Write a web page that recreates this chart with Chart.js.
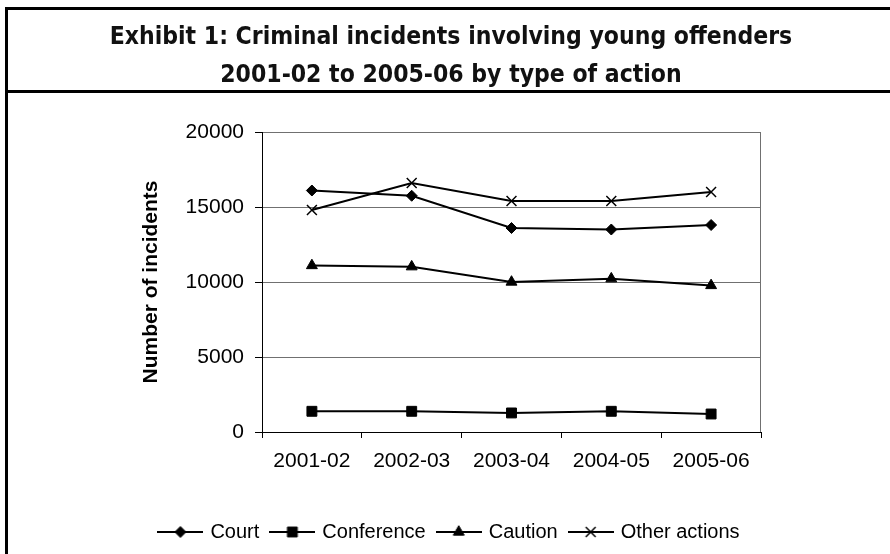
<!DOCTYPE html>
<html>
<head>
<meta charset="utf-8">
<script src="https://cdn.jsdelivr.net/npm/chart.js@4.4.1/dist/chart.umd.min.js"></script>
<style>
  html, body { margin: 0; padding: 0; background: #fff; overflow: hidden; }
  #frame { position: absolute; left: 5px; top: 7px; width: 900px; height: 600px; border: 3px solid #000; }
  #rule { position: absolute; left: 5px; top: 90px; width: 900px; height: 3px; background: #000; }
  #title {
    position: absolute; left: 0; top: 17px; width: 902px; text-align: center;
    font-family: "DejaVu Sans Condensed", "DejaVu Sans", sans-serif; font-stretch: condensed;
    font-weight: bold; font-size: 24.5px; line-height: 38px; color: #111;
  }
  #chartBox { position: absolute; left: 0; top: 0; width: 890px; height: 554px; }
</style>
</head>
<body>
<div id="chartBox"><canvas id="chartArea"></canvas></div>
<div id="frame"></div>
<div id="rule"></div>
<div id="title">Exhibit 1: Criminal incidents involving young offenders<br>2001-02 to 2005-06 by type of action</div>
<script>
// Chart data
var years = ['2001-02', '2002-03', '2003-04', '2004-05', '2005-06'];
var courtValues = [16100, 15750, 13600, 13500, 13800];
var conferenceValues = [1380, 1380, 1270, 1380, 1200];
var cautionValues = [11100, 11020, 10000, 10220, 9770];
var otherValues = [14800, 16600, 15400, 15400, 16000];
var yTicks = [0, 5000, 10000, 15000, 20000];

var tickFont = { family: 'Liberation Sans, Arial, sans-serif', size: 21 };

// Build one black line series with its marker style
function makeSeries(label, values, style, radius) {
  return {
    label: label,
    data: values,
    borderColor: '#000',
    backgroundColor: '#000',
    borderWidth: 2,
    pointStyle: style,
    pointRadius: radius,
    pointHoverRadius: radius,
    pointBackgroundColor: '#000',
    pointBorderColor: '#000',
    pointBorderWidth: style === 'crossRot' ? 1.5 : 1,
    tension: 0
  };
}

// Small canvas with a line and the marker, used as the legend symbol
function legendIcon(ds) {
  var c = document.createElement('canvas');
  c.width = 46;
  c.height = 16;
  var g = c.getContext('2d');
  g.strokeStyle = '#000';
  g.fillStyle = '#000';
  g.lineWidth = 2;
  g.beginPath();
  g.moveTo(0, 8);
  g.lineTo(46, 8);
  g.stroke();
  g.lineWidth = ds.pointBorderWidth;
  Chart.helpers.drawPoint(g, { pointStyle: ds.pointStyle, radius: ds.pointRadius, borderWidth: ds.pointBorderWidth, rotation: 0 }, 23, 8);
  return c;
}

// Grey frame line on the right of the plot area
var plotFrame = {
  id: 'plotFrame',
  beforeDatasetsDraw: function(chart) {
    var a = chart.chartArea;
    var ctx = chart.ctx;
    ctx.save();
    ctx.strokeStyle = '#707070';
    ctx.lineWidth = 1;
    ctx.beginPath();
    ctx.moveTo(a.right - 0.5, a.top);
    ctx.lineTo(a.right - 0.5, a.bottom);
    ctx.stroke();
    ctx.restore();
  }
};

var data = {
  labels: years,
  datasets: [
    makeSeries('Court', courtValues, 'rectRot', 5.5),
    makeSeries('Conference', conferenceValues, 'rect', 7),
    makeSeries('Caution', cautionValues, 'triangle', 6.3),
    makeSeries('Other actions', otherValues, 'crossRot', 7)
  ]
};

var ctx = document.getElementById('chartArea').getContext('2d');
window.myLineChart = new Chart(ctx, {
  type: 'line',
  data: data,
  plugins: [plotFrame],
  options: {
    responsive: true,
    maintainAspectRatio: false,
    animation: false,
    layout: { padding: { left: 139, right: 129, top: 132, bottom: 2 } },
    plugins: {
      tooltip: { enabled: false },
      legend: {
        position: 'bottom',
        labels: {
          usePointStyle: true,
          pointStyleWidth: 40,
          padding: 13,
          color: '#000',
          font: { family: 'Liberation Sans, Arial, sans-serif', size: 20 },
          generateLabels: function(chart) {
            return chart.data.datasets.map(function(ds, i) {
              return { text: ds.label, pointStyle: legendIcon(ds), datasetIndex: i, lineWidth: 0, hidden: false, fontColor: '#000' };
            });
          }
        }
      }
    },
    scales: {
      x: {
        offset: true,
        grid: { drawOnChartArea: false, drawTicks: true, tickLength: 6, offset: true, color: '#000', lineWidth: 1 },
        border: { display: true, color: '#000', width: 1 },
        ticks: { color: '#000', font: tickFont, padding: 11, maxRotation: 0 },
        afterFit: function(scale) { scale.height = 77; }
      },
      y: {
        min: 0,
        max: 20000,
        afterBuildTicks: function(scale) {
          scale.ticks = yTicks.map(function(v) { return { value: v }; });
        },
        grid: {
          color: function(c) { return c.tick && c.tick.value === 0 ? 'rgba(0,0,0,0)' : '#707070'; },
          tickColor: '#000',
          tickLength: 7,
          lineWidth: 1
        },
        border: { display: true, color: '#000', width: 1 },
        ticks: {
          color: '#000',
          font: tickFont,
          padding: 11,
          callback: function(v) { return String(v); }
        },
        title: {
          display: true,
          text: 'Number of incidents',
          color: '#000',
          padding: 0,
          font: { family: 'Liberation Sans, Arial, sans-serif', size: 21, weight: 'bold' }
        },
        afterFit: function(scale) { scale.width = 123; }
      }
    }
  }
});
</script>
</body>
</html>
